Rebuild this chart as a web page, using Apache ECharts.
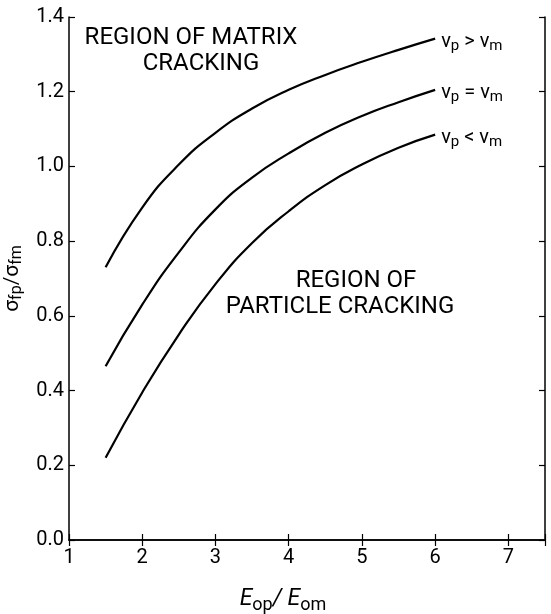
<!DOCTYPE html>
<html>
<head>
<meta charset="utf-8">
<script src="https://cdn.jsdelivr.net/npm/echarts@6/dist/echarts.min.js"></script>
<style>
  html, body { margin: 0; padding: 0; background: #fff; }
  #chart { width: 551px; height: 614px; }
</style>
</head>
<body>
<div id="chart"></div>
<script>
// E_op / E_om
var ratioE = [1.5, 2, 2.5, 3, 3.5, 4, 4.5, 5, 5.5, 6]
// sigma_fp / sigma_fm for each Poisson ratio case
var nuGreater = [0.73, 0.89, 1.005, 1.09, 1.155, 1.205, 1.245, 1.28, 1.312, 1.342]
var nuEqual = [0.465, 0.63, 0.77, 0.885, 0.97, 1.035, 1.09, 1.135, 1.172, 1.205]
var nuLess = [0.22, 0.395, 0.55, 0.685, 0.795, 0.88, 0.95, 1.005, 1.05, 1.085]
var curveLabels = ['{a|ν}{s|p}{a| > ν}{s|m}', '{a|ν}{s|p}{a| = ν}{s|m}', '{a|ν}{s|p}{a| < ν}{s|m}']

var font = 'Roboto, "Liberation Sans", sans-serif'
var ch = echarts.init(document.getElementById('chart'))

function pairs(ys) {
  return ratioE.map(function (x, i) { return [x, ys[i]] })
}

function curve(ys, label) {
  return {
    type: 'line',
    data: pairs(ys),
    smooth: 0.5,
    symbol: 'none',
    lineStyle: { color: '#000', width: 2.2 },
    endLabel: {
      show: true,
      formatter: label,
      distance: 6,
      offset: [0, 3],
      rich: {
        a: { fontFamily: font, fontSize: 20, color: '#000' },
        s: { fontFamily: font, fontSize: 15, color: '#000', verticalAlign: 'bottom', padding: [9, 0, 0, 0] }
      }
    }
  }
}

var axisLine = { show: true, lineStyle: { color: '#000', width: 1.5 } }
var axisTick = { show: true, inside: true, length: 6, lineStyle: { color: '#000', width: 1.2 } }

var option = {
  animation: false,
  grid: { left: 69, right: 6, top: 17, bottom: 74, outerBoundsMode: 'none', containLabel: false },
  xAxis: [
    {
      type: 'value',
      min: 1, max: 7.5, interval: 1,
      axisLine: axisLine,
      axisTick: axisTick,
      splitLine: { show: false },
      axisLabel: {
        color: '#000', fontFamily: font, fontSize: 20, margin: 8,
        formatter: function (v) { return v > 7 ? '' : v }
      },
      name: '{e|E}{s|op}{e|/ E}{s|om}',
      nameLocation: 'middle',
      nameGap: 44,
      nameTextStyle: {
        padding: [0, 48, 0, 0],
        rich: {
          e: { fontFamily: font, fontSize: 23, fontStyle: 'italic', color: '#000' },
          s: { fontFamily: font, fontSize: 18, color: '#000', verticalAlign: 'bottom', padding: [12, 0, 0, 0] }
        }
      }
    },
    {
      type: 'value', position: 'top',
      min: 1, max: 7.5, interval: 1,
      axisLine: axisLine, axisTick: axisTick,
      axisLabel: { show: false }, splitLine: { show: false }
    }
  ],
  yAxis: [
    {
      type: 'value',
      min: 0, max: 1.4, interval: 0.2,
      axisLine: axisLine,
      axisTick: axisTick,
      splitLine: { show: false },
      axisLabel: {
        color: '#000', fontFamily: font, fontSize: 20, margin: 5,
        formatter: function (v) { return v.toFixed(1) }
      },
      name: '{a|σ}{s|fp}{a|/σ}{s|fm}',
      nameLocation: 'middle',
      nameGap: 42,
      nameTextStyle: {
        rich: {
          a: { fontFamily: font, fontSize: 21, color: '#000' },
          s: { fontFamily: font, fontSize: 16, color: '#000', verticalAlign: 'bottom', padding: [9, 0, 0, 0] }
        }
      }
    },
    {
      type: 'value', position: 'right',
      min: 0, max: 1.4, interval: 0.2,
      axisLine: axisLine, axisTick: axisTick,
      axisLabel: { show: false }, splitLine: { show: false }
    }
  ],
  series: [
    curve(nuGreater, curveLabels[0]),
    curve(nuEqual, curveLabels[1]),
    curve(nuLess, curveLabels[2])
  ],
  graphic: [
    { type: 'text', x: 191, y: 38, style: { text: 'REGION OF MATRIX', font: '24px ' + font, fill: '#000', align: 'center', verticalAlign: 'middle' } },
    { type: 'text', x: 201, y: 64, style: { text: 'CRACKING', font: '24px ' + font, fill: '#000', align: 'center', verticalAlign: 'middle' } },
    { type: 'text', x: 356, y: 281, style: { text: 'REGION OF', font: '24px ' + font, fill: '#000', align: 'center', verticalAlign: 'middle' } },
    { type: 'text', x: 340, y: 307, style: { text: 'PARTICLE CRACKING', font: '24px ' + font, fill: '#000', align: 'center', verticalAlign: 'middle' } }
  ]
}
ch.setOption(option)
</script>
</body>
</html>
